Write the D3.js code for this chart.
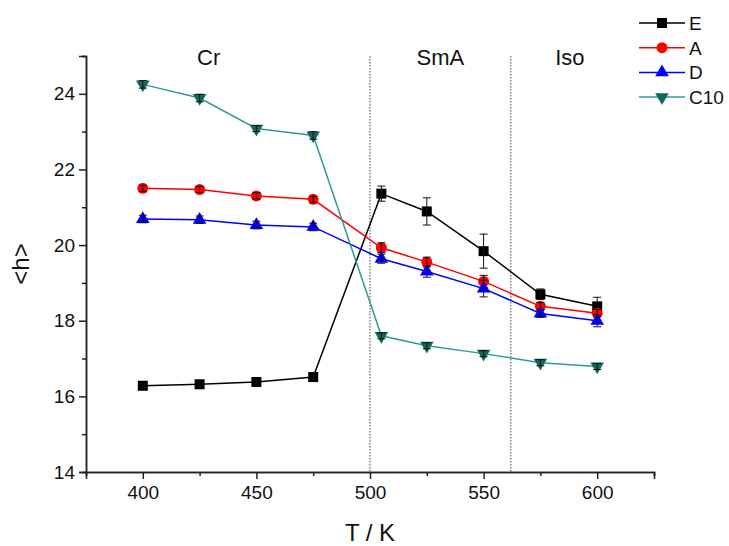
<!DOCTYPE html>
<html lang="en">
<head>
<meta charset="utf-8">
<script src="https://d3js.org/d3.v7.min.js"></script>
<style>
  body { margin: 0; background: #fff; }
  text { font-family: "Liberation Sans", Arial, sans-serif; fill: #111; }
</style>
</head>
<body>
<svg width="729" height="546"></svg>
<script>
// temperatures (K) and mean <h> values for each molecule
var temps = [400, 425, 450, 475, 505, 525, 550, 575, 600];
var valE   = [16.28, 16.32, 16.38, 16.51, 21.36, 20.89, 19.84, 18.70, 18.38];
var valA   = [21.50, 21.47, 21.30, 21.21, 19.93, 19.55, 19.04, 18.38, 18.20];
var valD   = [20.69, 20.67, 20.53, 20.48, 19.64, 19.30, 18.85, 18.19, 18.00];
var valC10 = [24.25, 23.89, 23.08, 22.90, 17.60, 17.34, 17.13, 16.89, 16.79];
var errE   = [0.05, 0.05, 0.05, 0.05, 0.20, 0.36, 0.45, 0.14, 0.24];
var errA   = [0.08, 0.08, 0.08, 0.08, 0.13, 0.13, 0.16, 0.10, 0.10];
var errD   = [0.10, 0.10, 0.10, 0.10, 0.12, 0.15, 0.22, 0.10, 0.16];
var errC10 = [0.10, 0.10, 0.08, 0.10, 0.08, 0.08, 0.08, 0.08, 0.08];

var phaseBounds = [500, 562];
var phaseNames = ["Cr", "SmA", "Iso"];
var phaseCenters = [429, 531, 588];

var xTicks = [400, 450, 500, 550, 600];
var yTicks = [14, 16, 18, 20, 22, 24];

var series = [
  {name: "E",   vals: valE,   err: errE,   line: "#000000", fill: "#000000", shape: d3.symbolSquare},
  {name: "A",   vals: valA,   err: errA,   line: "#ff0000", fill: "#ff0000", shape: d3.symbolCircle},
  {name: "D",   vals: valD,   err: errD,   line: "#0000ff", fill: "#0000ff", shape: d3.symbolTriangle},
  {name: "C10", vals: valC10, err: errC10, line: "#2e9c96", fill: "#126763", shape: "down"}
];

var svg = d3.select("svg");
// plot box (note: "top" is taken by window.top)
var mLeft = 86, mRight = 654, mTop = 56, mBottom = 472;

var x = d3.scaleLinear().domain([375, 625]).range([mLeft, mRight]);
var y = d3.scaleLinear().domain([14, 25]).range([mBottom, mTop]);

// phase separators
svg.append("g").selectAll("line").data(phaseBounds).enter().append("line")
  .attr("x1", function(d) { return x(d); })
  .attr("x2", function(d) { return x(d); })
  .attr("y1", mTop).attr("y2", mBottom)
  .attr("stroke", "#444").attr("stroke-width", 1)
  .attr("stroke-dasharray", "1.5,1.5");

svg.append("g").selectAll("text").data(phaseNames).enter().append("text")
  .attr("x", function(d, i) { return x(phaseCenters[i]); })
  .attr("y", 65)
  .attr("text-anchor", "middle")
  .style("font-size", "22px")
  .text(function(d) { return d; });

// axes
var xAxis = svg.append("g")
  .attr("transform", "translate(0," + mBottom + ")")
  .call(d3.axisBottom(x).tickValues(xTicks).tickSize(7).tickPadding(7).tickFormat(d3.format("d")));
var xMinor = svg.append("g")
  .attr("transform", "translate(0," + mBottom + ")")
  .call(d3.axisBottom(x).tickValues([375, 425, 475, 525, 575, 625]).tickSize(4).tickFormat(""));
var yAxis = svg.append("g")
  .attr("transform", "translate(" + mLeft + ",0)")
  .call(d3.axisLeft(y).tickValues(yTicks).tickSize(7).tickPadding(4).tickFormat(d3.format("d")));
var yMinor = svg.append("g")
  .attr("transform", "translate(" + mLeft + ",0)")
  .call(d3.axisLeft(y).tickValues([15, 17, 19, 21, 23, 25]).tickSize(4).tickFormat(""));

[xAxis, xMinor, yAxis, yMinor].forEach(function(g) {
  g.select(".domain").attr("stroke", "#222").attr("stroke-width", 1.5);
  g.selectAll(".tick line").attr("stroke", "#222").attr("stroke-width", 1.5);
  g.selectAll(".tick text").style("font-size", "19px").style("font-family", "Liberation Sans, Arial, sans-serif").attr("fill", "#111");
});

svg.append("text")
  .attr("x", x(500)).attr("y", 541)
  .attr("text-anchor", "middle")
  .style("font-size", "24px")
  .text("T / K");

svg.append("text")
  .attr("transform", "translate(29," + y(19.5) + ") rotate(-90)")
  .attr("text-anchor", "middle")
  .style("font-size", "24px")
  .text("<h>");

function markerPath(shape, size) {
  if (shape === "down") return d3.symbol().type(d3.symbolTriangle).size(size);
  return d3.symbol().type(shape).size(size);
}
function markerSize(shape) {
  return shape === d3.symbolCircle ? 95 : (shape === d3.symbolSquare ? 100 : 80);
}

var line = d3.line()
  .x(function(d) { return x(d.t); })
  .y(function(d) { return y(d.v); });

series.forEach(function(s) {
  var pts = temps.map(function(t, i) { return {t: t, v: s.vals[i], e: s.err[i]}; });
  var g = svg.append("g");

  g.append("path").datum(pts)
    .attr("fill", "none")
    .attr("stroke", s.line)
    .attr("stroke-width", 1.5)
    .attr("d", line);

  g.selectAll("path.mk").data(pts).enter().append("path")
    .attr("class", "mk")
    .attr("d", markerPath(s.shape, markerSize(s.shape)))
    .attr("transform", function(d) {
      return "translate(" + x(d.t) + "," + y(d.v) + ")" + (s.shape === "down" ? " rotate(180)" : "");
    })
    .attr("fill", s.fill);

  // error bars
  var eb = g.selectAll("g.eb").data(pts).enter().append("g").attr("class", "eb")
    .attr("stroke", "#111").attr("stroke-width", 1);
  eb.append("line")
    .attr("x1", function(d) { return x(d.t); })
    .attr("x2", function(d) { return x(d.t); })
    .attr("y1", function(d) { return y(d.v - d.e); })
    .attr("y2", function(d) { return y(d.v + d.e); });
  eb.append("line")
    .attr("x1", function(d) { return x(d.t) - 4; })
    .attr("x2", function(d) { return x(d.t) + 4; })
    .attr("y1", function(d) { return y(d.v + d.e); })
    .attr("y2", function(d) { return y(d.v + d.e); });
  eb.append("line")
    .attr("x1", function(d) { return x(d.t) - 4; })
    .attr("x2", function(d) { return x(d.t) + 4; })
    .attr("y1", function(d) { return y(d.v - d.e); })
    .attr("y2", function(d) { return y(d.v - d.e); });
});

// legend
var lg = svg.append("g").selectAll("g").data(series).enter().append("g")
  .attr("transform", function(d, i) { return "translate(639," + (23 + i * 24.7) + ")"; });
lg.append("line").attr("x1", 0).attr("x2", 46).attr("y1", 0).attr("y2", 0)
  .attr("stroke", function(d) { return d.line; }).attr("stroke-width", 1.5);
lg.append("path")
  .attr("d", function(d) { return markerPath(d.shape, markerSize(d.shape))(); })
  .attr("transform", function(d) { return "translate(23,0)" + (d.shape === "down" ? " rotate(180)" : ""); })
  .attr("fill", function(d) { return d.fill; });
lg.append("text").attr("x", 50).attr("y", 7)
  .style("font-size", "19px")
  .text(function(d) { return d.name; });
</script>
</body>
</html>
